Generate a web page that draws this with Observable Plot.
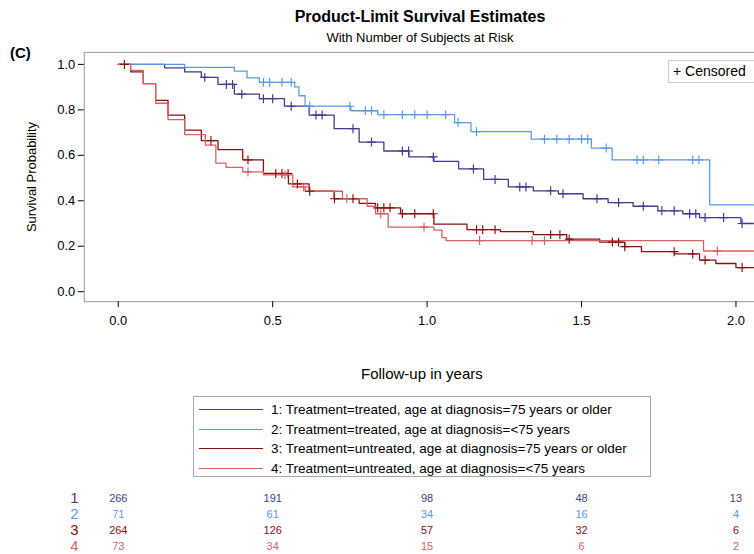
<!DOCTYPE html>
<html><head><meta charset="utf-8">
<script src="https://cdn.jsdelivr.net/npm/d3@7"></script>
<script src="https://cdn.jsdelivr.net/npm/@observablehq/plot@0.6"></script>
<style>
body{margin:0;overflow:hidden;background:#fff;font-family:"Liberation Sans",Arial,sans-serif}
#wrap{position:relative;width:754px;height:554px;overflow:hidden}
.abs{position:absolute}
</style></head>
<body><div id="wrap"></div>
<script>
const groups = ['1','2','3','4']
const colors = ['#3f3d8f', '#5b9be6', '#8b1010', '#d9605f']
const labels = [
  '1: Treatment=treated, age at diagnosis=75 years or older',
  '2: Treatment=treated, age at diagnosis=<75 years',
  '3: Treatment=untreated, age at diagnosis=75 years or older',
  '4: Treatment=untreated, age at diagnosis=<75 years'
]
// step curves (time in years, survival)
const g1t = [0, 0.15, 0.215, 0.269, 0.323, 0.376, 0.457, 0.538, 0.618, 0.699, 0.780, 0.860, 0.941, 1.022, 1.102, 1.183, 1.263, 1.344, 1.425, 1.505, 1.586, 1.667, 1.747, 1.828, 1.882, 2.016, 2.08]
const g1s = [1, 0.985, 0.967, 0.943, 0.912, 0.869, 0.849, 0.816, 0.777, 0.717, 0.658, 0.619, 0.593, 0.573, 0.540, 0.494, 0.461, 0.444, 0.431, 0.409, 0.392, 0.376, 0.356, 0.343, 0.326, 0.300, 0.300]
const g2t = [0, 0.215, 0.376, 0.417, 0.457, 0.571, 0.585, 0.605, 0.753, 0.840, 1.089, 1.142, 1.337, 1.532, 1.599, 1.915, 2.08]
const g2s = [1, 0.987, 0.970, 0.941, 0.921, 0.901, 0.862, 0.816, 0.796, 0.779, 0.744, 0.704, 0.671, 0.632, 0.580, 0.382, 0.382]
const g3t = [0, 0.04, 0.081, 0.121, 0.161, 0.215, 0.269, 0.323, 0.403, 0.470, 0.551, 0.618, 0.699, 0.780, 0.833, 0.914, 1.022, 1.129, 1.237, 1.344, 1.452, 1.559, 1.640, 1.694, 1.801, 1.882, 1.935, 2.0, 2.08]
const g3s = [1, 0.967, 0.915, 0.842, 0.777, 0.711, 0.665, 0.625, 0.580, 0.520, 0.474, 0.442, 0.409, 0.389, 0.369, 0.343, 0.297, 0.273, 0.264, 0.251, 0.231, 0.218, 0.198, 0.176, 0.166, 0.139, 0.124, 0.106, 0.106]
const g4t = [0, 0.04, 0.081, 0.121, 0.161, 0.215, 0.282, 0.316, 0.349, 0.403, 0.470, 0.565, 0.605, 0.726, 0.806, 0.833, 0.874, 1.022, 1.048, 1.062, 1.895, 2.08]
const g4s = [1, 0.974, 0.915, 0.829, 0.757, 0.691, 0.645, 0.566, 0.547, 0.527, 0.514, 0.461, 0.442, 0.409, 0.376, 0.343, 0.284, 0.271, 0.238, 0.225, 0.179, 0.179]
// censored times
const c1 = [0.28, 0.35, 0.37, 0.40, 0.47, 0.50, 0.56, 0.64, 0.66, 0.76, 0.82, 0.92, 0.94, 1.02, 1.15, 1.22, 1.30, 1.32, 1.40, 1.44, 1.55, 1.62, 1.70, 1.76, 1.80, 1.85, 1.87, 1.90, 1.96, 2.02]
const c2 = [0.47, 0.49, 0.53, 0.56, 0.62, 0.75, 0.80, 0.82, 0.86, 0.92, 0.96, 1.00, 1.06, 1.10, 1.16, 1.38, 1.42, 1.46, 1.50, 1.52, 1.58, 1.68, 1.70, 1.75, 1.86, 1.88]
const c3 = [0.02, 0.30, 0.42, 0.51, 0.53, 0.55, 0.58, 0.62, 0.70, 0.76, 0.84, 0.86, 0.88, 0.92, 0.96, 1.02, 1.16, 1.18, 1.22, 1.40, 1.43, 1.46, 1.60, 1.62, 1.64, 1.80, 1.86, 1.90, 2.02]
const c4 = [0.42, 0.54, 0.60, 0.74, 0.85, 0.99, 1.17, 1.34, 1.38, 1.94]
// numbers at risk at 0, 0.5, 1, 1.5, 2 years
const riskTimes = [0, 0.5, 1, 1.5, 2]
const risk1 = [266, 191, 98, 48, 13]
const risk2 = [71, 61, 34, 16, 4]
const risk3 = [264, 126, 57, 32, 6]
const risk4 = [73, 34, 15, 6, 2]

const curves = [[g1t, g1s], [g2t, g2s], [g3t, g3s], [g4t, g4s]]
const cens = [c1, c2, c3, c4]
const risks = [risk1, risk2, risk3, risk4]

const survAt = (ts, ss, t) => ss[d3.bisectRight(ts, t) - 1]

const lines = curves.flatMap(([ts, ss], i) => ts.map((t, j) => ({g: groups[i], t, s: ss[j]})))
const marks = cens.flatMap((cs, i) => cs.map(t => ({g: groups[i], t, s: survAt(curves[i][0], curves[i][1], t)})))
const riskRows = risks.flatMap((r, i) => r.map((n, j) => ({g: groups[i], t: riskTimes[j], n})))

const color = {domain: groups, range: colors}
const xDomain = [-0.11, 2.06]
const wrap = d3.select('#wrap')

let chart = Plot.plot({
  width: 756, height: 390,
  marginLeft: 84, marginRight: 0, marginTop: 52, marginBottom: 88,
  style: {fontFamily: '"Liberation Sans", Arial, sans-serif', fontSize: '13px', color: '#000'},
  x: {domain: xDomain},
  y: {domain: [-0.044, 1.053]},
  color,
  marks: [
    Plot.frame({stroke: '#999'}),
    Plot.axisY({ticks: [0, 0.2, 0.4, 0.6, 0.8, 1], tickFormat: '.1f', label: 'Survival Probability', labelArrow: false, labelAnchor: 'center', labelOffset: 58, tickSize: 6, fontSize: 13}),
    Plot.axisX({ticks: [0, 0.5, 1, 1.5, 2], tickFormat: '.1f', label: null, tickSize: 6, tickPadding: 8, fontSize: 13}),
    Plot.line(lines, {x: 't', y: 's', z: 'g', stroke: 'g', curve: 'step-after', strokeWidth: 1.3, clip: true}),
    Plot.dot(marks, {x: 't', y: 's', stroke: 'g', symbol: 'plus', r: 3, strokeWidth: 1.2, clip: true})
  ]
})
wrap.append(() => chart).style('position', 'absolute').style('left', '0px').style('top', '0px')

let riskChart = Plot.plot({
  width: 756, height: 68,
  marginLeft: 84, marginRight: 0, marginTop: 0, marginBottom: 0,
  style: {fontFamily: '"Liberation Sans", Arial, sans-serif'},
  x: {domain: xDomain, axis: null},
  y: {type: 'point', domain: groups, range: [11, 60], padding: 0, axis: null},
  color,
  marks: [
    Plot.text(riskRows, {x: 't', y: 'g', text: 'n', fill: 'g', fontSize: 11}),
    Plot.text(groups, {y: d => d, text: d => d, fill: d => d, frameAnchor: 'left', dx: -14, fontSize: 15})
  ]
})
wrap.append(() => riskChart).style('position', 'absolute').style('left', '0px').style('top', '486px')

wrap.append('div').attr('class', 'abs').style('left', '0').style('width', '840px').style('top', '8px')
  .style('text-align', 'center').style('font-weight', 'bold').style('font-size', '16px').text('Product-Limit Survival Estimates')
wrap.append('div').attr('class', 'abs').style('left', '0').style('width', '840px').style('top', '30px')
  .style('text-align', 'center').style('font-size', '13px').text('With Number of Subjects at Risk')
wrap.append('div').attr('class', 'abs').style('left', '10px').style('top', '44px')
  .style('font-weight', 'bold').style('font-size', '15px').text('(C)')
wrap.append('div').attr('class', 'abs').style('left', '361px').style('top', '365px')
  .style('font-size', '15px').text('Follow-up in years')
wrap.append('div').attr('class', 'abs').style('left', '668px').style('top', '60px').style('width', '100px').style('height', '21px')
  .style('border', '1px solid #ccc').style('font-size', '14px').style('line-height', '21px').style('padding-left', '4px').text('+ Censored')

const leg = wrap.append('div').attr('class', 'abs').style('left', '193px').style('top', '396px')
  .style('width', '458px').style('height', '81px').style('border', '1px solid #aaa').style('box-sizing', 'border-box')
  .style('padding-top', '3px')
labels.forEach((l, i) => {
  const row = leg.append('div').style('display', 'flex').style('align-items', 'center').style('height', '19.5px').style('font-size', '13.5px')
  row.append('div').style('width', '64px').style('height', '0').style('border-top', `1.5px solid ${colors[i]}`).style('margin', '0 8px 0 5px')
  row.append('span').text(l)
})
</script></body></html>
